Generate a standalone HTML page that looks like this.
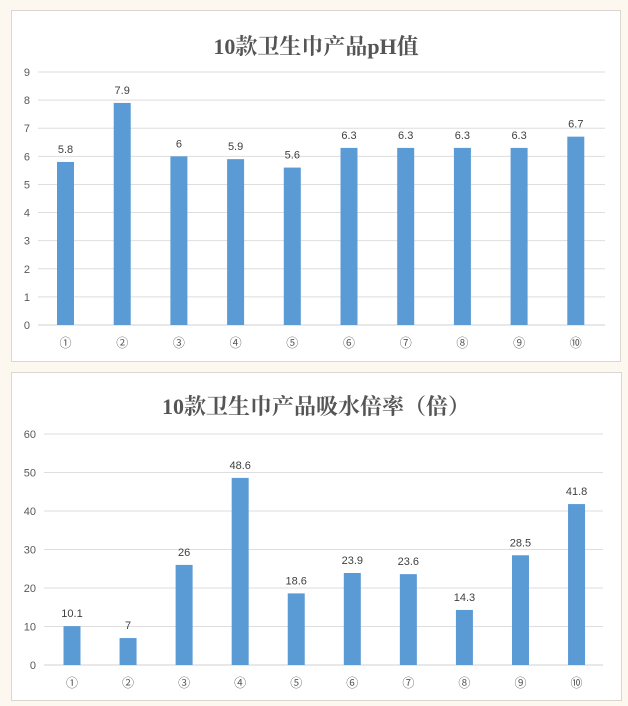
<!DOCTYPE html>
<html><head><meta charset="utf-8"><style>
body{margin:0;background:#fcf7ef;width:628px;height:706px;overflow:hidden;font-family:"Liberation Sans","Noto Sans CJK SC",sans-serif}
svg{position:absolute;left:0;top:0}
</style></head><body>
<svg width="628" height="706">
<rect x="11.5" y="10.5" width="609" height="351" fill="#fff" stroke="#dcd6d0"/>
<rect x="11.5" y="372.5" width="610" height="328" fill="#fff" stroke="#dcd6d0"/>
<text x="316" y="54" text-anchor="middle" font-family="'Liberation Serif','Noto Serif CJK SC',serif" font-weight="bold" font-size="22" fill="#555">10款卫生巾产品pH值</text>
<text x="316" y="414" text-anchor="middle" font-family="'Liberation Serif','Noto Serif CJK SC',serif" font-weight="bold" font-size="22" fill="#555">10款卫生巾产品吸水倍率（倍）</text>
<g id="c1"></g><g id="c2"></g>
</svg>
<script>
const cats=["①","②","③","④","⑤","⑥","⑦","⑧","⑨","⑩"];
const phValues=[5.8,7.9,6,5.9,5.6,6.3,6.3,6.3,6.3,6.7];
const phTicks=[0,1,2,3,4,5,6,7,8,9];
const absorbValues=[10.1,7,26,48.6,18.6,23.9,23.6,14.3,28.5,41.8];
const absorbTicks=[0,10,20,30,40,50,60];
const NS="http://www.w3.org/2000/svg";
function mk(g,tag,a,txt){const e=document.createElementNS(NS,tag);for(const k in a)e.setAttribute(k,a[k]);if(txt!==undefined)e.textContent=txt;g.appendChild(e);return e;}
function draw(gid,vals,ticks,o){
 const g=document.getElementById(gid);
 const max=ticks[ticks.length-1];
 const y=v=>o.y0-(o.y0-o.yTop)*v/max;
 const x=i=>o.x1+o.step*i;
 ticks.forEach(t=>{
  const l=mk(g,'line',{x1:o.gx0,x2:o.gx1,y1:y(t),y2:y(t),stroke:t===0?'#d0d0d0':'#dedede','stroke-width':1});
  
  
  const tx=mk(g,'text',{x:o.tickX,y:y(t)+4,'text-anchor':'end','font-size':11,fill:'#595959'},String(t));
  
  
 });
 vals.forEach((v,i)=>{
  const r=mk(g,'rect',{x:x(i)-8.5,y:y(v),width:17,height:o.y0-y(v),fill:'#5b9bd5'});
  
  
  const lb=mk(g,'text',{x:x(i),y:y(v)-9,'text-anchor':'middle','font-size':11,fill:'#404040'},String(v));
  
  
  const c=mk(g,'text',{x:x(i),y:o.y0+22,'text-anchor':'middle','font-size':12,fill:'#595959'},cats[i]);
  
  
 });
}
draw('c1',phValues,phTicks,{y0:325,yTop:72,x1:65.5,step:56.7,gx0:38,gx1:605,tickX:30});
draw('c2',absorbValues,absorbTicks,{y0:665,yTop:434,x1:72,step:56.06,gx0:44,gx1:603,tickX:36});
</script>
</body></html>
